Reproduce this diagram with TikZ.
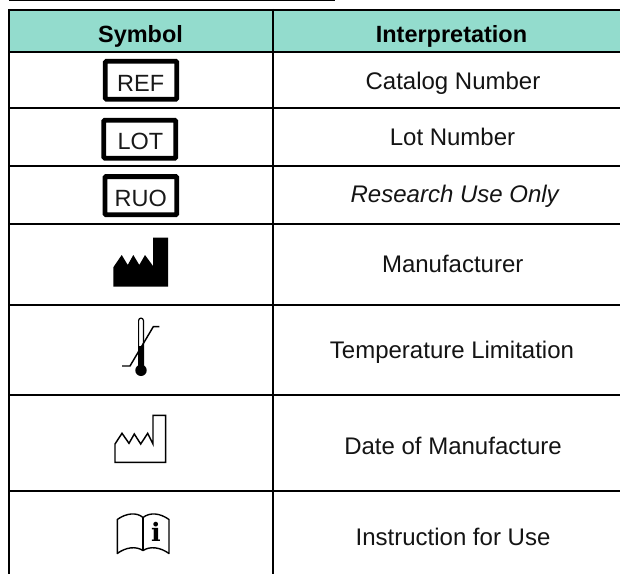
\documentclass[tikz,border=0pt]{standalone}
\usepackage{fontspec}
\setmainfont{Liberation Sans}
\newfontfamily\slabfont{DejaVu Serif}
\definecolor{headteal}{HTML}{93DCCD}
\tikzset{
  x=0.75pt,y=-0.75pt,
  gridline/.style={black,line width=1.5pt},
  toprule/.style={black,line width=1.1pt},
  head/.style={font=\fontsize{17.6}{20}\selectfont\bfseries,inner sep=0pt,anchor=base},
  body/.style={font=\fontsize{18}{20}\selectfont,inner sep=0pt,anchor=base,text=black!92},
  boxtext/.style={font=\fontsize{17.6}{20}\selectfont,inner sep=0pt,anchor=base,text=black!90},
  frame/.style={draw=black,line width=3.6pt,rounded corners=0.8pt,fill=white},
  symline/.style={black,line width=1.1pt,line join=miter},
  bookline/.style={black,line width=1.05pt,line join=round},
}
\begin{document}
\begin{tikzpicture}
\useasboundingbox (0,0) rectangle (620,574);
\fill[white] (0,0) rectangle (620,574);
% line above the table
\draw[toprule] (9,0.3) -- (335,0.3);
% header band
\fill[headteal] (9,10) rectangle (620,52);
% rules
\draw[gridline,line width=1.8pt] (8,10) -- (620,10);
\foreach \yy in {51.8,108.4,165.7,224,304.7,394.7,491.3}
  \draw[gridline] (8,\yy) -- (620,\yy);
\draw[gridline] (9,9) -- (9,574);
\draw[gridline] (272.7,9) -- (272.7,574);
% header text
\node[head] (hsym) at (140.5,42.7) {Symbol};
\node[head] (hint) at (451.5,42.7) {Interpretation};
% boxed symbols
\draw[frame] (105.3,61.3) rectangle (176.8,99.2);
\node[boxtext] (ref) at (140.7,91.7) {REF};
\draw[frame] (103.8,120.2) rectangle (175.8,158.2);
\node[boxtext] (lot) at (140.5,150) {LOT};
\draw[frame] (104.9,176.6) rectangle (176.8,214.8);
\node[boxtext] (ruo) at (140.7,206.7) {RUO};
% factory, filled
\fill[black] (113.3,286.7) -- (113.3,267.3) -- (121.7,255) -- (127.7,265) -- (133.3,255)
  -- (139.3,265) -- (145,255) -- (153,266) -- (153,237.7) -- (168,237.7) -- (168,286.7) -- cycle;
% thermometer
\draw[symline] (122,366) -- (130,366) -- (153.3,326.7) -- (159.3,326.7);
\draw[black,line width=0.9pt] (138.6,368) -- (138.6,320.5) arc[start angle=180,end angle=0,radius=2.4*0.75pt] -- (143.4,368);
\fill[black] (138.6,346) rectangle (143.4,368);
\fill[black] (141,370.3) circle[radius=5.7*0.75pt];
% date of manufacture
\draw[symline] (115,462.3) -- (115,444) -- (122,433.3) -- (129,443.3) -- (134.3,434)
  -- (140.7,444) -- (147.7,433.3) -- (153,444) -- (153,415.3) -- (165.7,415.3) -- (165.7,462.3) -- cycle;
% instruction book
\draw[bookline] (143,517.5) .. controls (137,512) and (126,513) .. (117.3,519.5)
  -- (117.3,553.5) .. controls (126,547) and (136,546) .. (143,550.5)
  .. controls (150,546) and (160,547) .. (169,553.5)
  -- (169,519.5) .. controls (160,513) and (150,512) .. (143,517.5) -- cycle;
\draw[bookline] (143,517.5) -- (143,550.5);
\node[font=\slabfont\bfseries\fontsize{19}{20}\selectfont,inner sep=0pt,anchor=base] (info) at (156,541.5) {i};
% interpretations
\node[body] (t1) at (453,89.3) {Catalog Number};
\node[body] (t2) at (452.5,146) {Lot Number};
\node[body,font=\fontsize{18}{20}\selectfont\itshape] (t3) at (454.7,202.7) {Research Use Only};
\node[body] (t4) at (452.7,272.7) {Manufacturer};
\node[body] (t5) at (452,358.3) {Temperature Limitation};
\node[body] (t6) at (453,454.3) {Date of Manufacture};
\node[body] (t7) at (453,545) {Instruction for Use};
\end{tikzpicture}
\end{document}
